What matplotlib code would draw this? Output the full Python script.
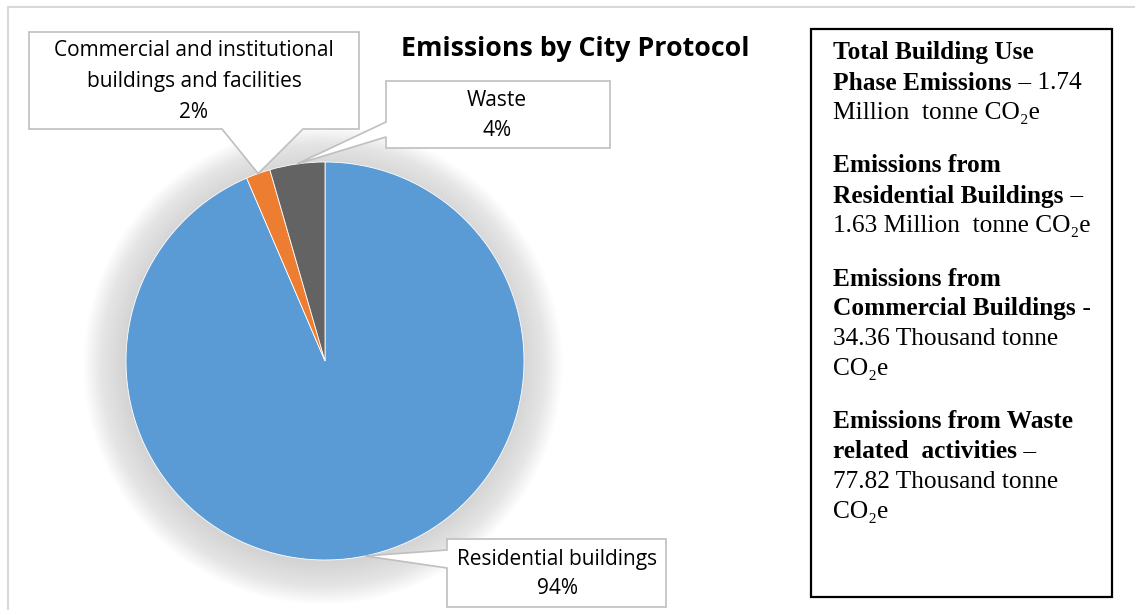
import matplotlib
matplotlib.use('Agg')
import matplotlib.pyplot as plt
import numpy as np
from matplotlib.patches import Polygon, Rectangle, Circle

W, H = 1135, 610

labels = ['Residential buildings', 'Commercial and institutional\nbuildings and facilities', 'Waste']
values = [1630.0, 34.36, 77.82]  # thousand tonne CO2e
colors = ['#5B9BD5', '#ED7D31', '#636363']

title = 'Emissions by City Protocol'

# (text, bold) segments per line, None = paragraph gap
info_lines = [
    [('Total Building Use', True)],
    [('Phase Emissions', True), (' – 1.74', False)],
    [('Million  tonne CO₂e', False)],
    None,
    [('Emissions from', True)],
    [('Residential Buildings', True), (' –', False)],
    [('1.63 Million  tonne CO₂e', False)],
    None,
    [('Emissions from', True)],
    [('Commercial Buildings', True), (' -', False)],
    [('34.36 Thousand tonne', False)],
    [('CO₂e', False)],
    None,
    [('Emissions from Waste', True)],
    [('related  activities', True), (' –', False)],
    [('77.82 Thousand tonne', False)],
    [('CO₂e', False)],
]

LABEL_FONT = ['Open Sans', 'DejaVu Sans']
SERIF = ['Liberation Serif', 'DejaVu Serif']

fig = plt.figure(figsize=(W / 100, H / 100), dpi=100)

# pie axes (pixel geometry), with margin for the soft shadow
cx, cy, r, m = 325, 361, 199, 50
pie_ax = fig.add_axes([(cx - r - m) / W, 1 - (cy + r + m) / H, 2 * (r + m) / W, 2 * (r + m) / H])
lim = (r + m) / r
pie_ax.axis('off')

# soft shadow
for k in range(30):
    pie_ax.add_patch(Circle((-0.01, -0.02), 1.0 + 0.007 * k, color='#909090', alpha=0.011, lw=0, zorder=0))

wedges, _ = pie_ax.pie(values, colors=colors, startangle=90, counterclock=False,
                       radius=1, wedgeprops=dict(linewidth=0.6, edgecolor='white'))
for w in wedges:
    w.set_zorder(2)
pie_ax.set_xlim(-lim, lim)
pie_ax.set_ylim(-lim, lim)

# overlay axes in pixel coordinates
ov = fig.add_axes([0, 0, 1, 1], facecolor='none')
ov.set_xlim(0, W)
ov.set_ylim(H, 0)
ov.axis('off')

# chart border
ov.plot([8, W], [7, 7], color='#D9D9D9', lw=1.5)
ov.plot([8, 8], [7, H], color='#D9D9D9', lw=1.5)

ov.text(575, 49, title, ha='center', va='center', fontsize=19.3, fontweight='bold',
        family=LABEL_FONT, color='#000000')


def tip_of(w):
    mid = np.deg2rad((w.theta1 + w.theta2) / 2)
    disp = pie_ax.transData.transform((np.cos(mid), np.sin(mid)))
    return ov.transData.inverted().transform(disp)


total = sum(values)
pcts = ['%d%%' % round(v / total * 100) for v in values]

# callouts: box (x0, y0, x1, y1), pointer side + anchor range
callouts = [
    (0, (447, 539, 666, 607), 'left', (550, 568), (557, [559, 588])),
    (1, (29, 32, 359, 129), 'bottom', (222, 303), (194, [50, 81, 112])),
    (2, (386, 81, 610, 148), 'left', (122, 137), (497, [101, 130])),
]
for idx, (x0, y0, x1, y1), side, (a, b), (tx, tys) in callouts:
    tip = tip_of(wedges[idx])
    if side == 'left':
        pts = [(x0, y0), (x1, y0), (x1, y1), (x0, y1), (x0, b), tuple(tip), (x0, a)]
    else:
        pts = [(x0, y0), (x1, y0), (x1, y1), (b, y1), tuple(tip), (a, y1), (x0, y1)]
    ov.add_patch(Polygon(pts, closed=True, facecolor='white', edgecolor='#BFBFBF', lw=1.2, zorder=3))
    txt_lines = labels[idx].split('\n') + [pcts[idx]]
    for t, yy in zip(txt_lines, tys):
        ov.text(tx, yy, t, ha='center', va='center', fontsize=15, family=LABEL_FONT,
                color='#000000', zorder=4)

# info box
ov.add_patch(Rectangle((811, 29), 1112 - 811, 597 - 29, facecolor='none', edgecolor='black', lw=1.6, zorder=3))
fig.canvas.draw()
renderer = fig.canvas.get_renderer()
y = 53
for line in info_lines:
    if line is None:
        y += 23
        continue
    x = 833
    for seg, bold in line:
        t = ov.text(x, y, seg, ha='left', va='center', fontsize=18.3, family=SERIF,
                    fontweight='bold' if bold else 'normal', color='#000000', zorder=4)
        bb = t.get_window_extent(renderer=renderer)
        x = ov.transData.inverted().transform((bb.x1, bb.y0))[0]
    y += 30

fig.savefig('out.png', dpi=100)
